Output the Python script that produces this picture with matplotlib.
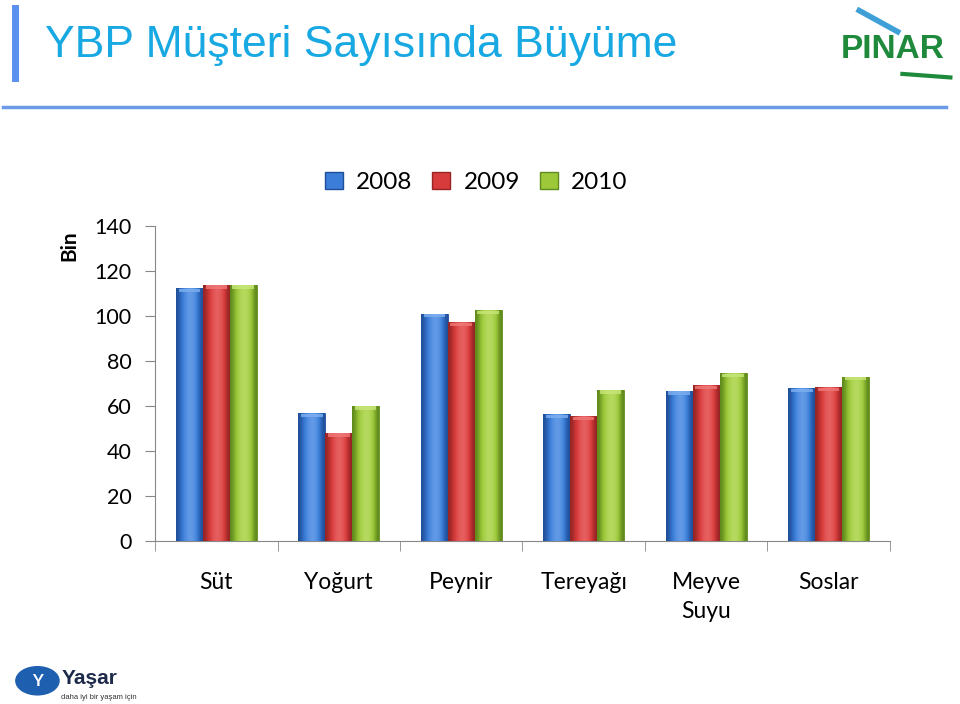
import numpy as np
import matplotlib.pyplot as plt
from matplotlib.patches import Rectangle, Ellipse
from matplotlib.lines import Line2D

categories = ["Süt", "Yoğurt", "Peynir", "Tereyağı", "Meyve\nSuyu", "Soslar"]
years = ["2008", "2009", "2010"]
v2008 = [112.3, 56.7, 101.0, 56.4, 66.7, 67.9]
v2009 = [113.8, 48.0, 97.3, 55.4, 69.3, 68.3]
v2010 = [113.8, 60.0, 102.5, 67.1, 74.5, 73.0]
yticks = [0, 20, 40, 60, 80, 100, 120, 140]

colors = ["#3b7dd8", "#d83b3b", "#9cc83a"]
dark = ["#1f4f9a", "#962424", "#5f8a1c"]
light = ["#7fb0f0", "#f07a7a", "#c8e67a"]

plt.rcParams['font.family'] = ['Lato', 'DejaVu Sans']

fig = plt.figure(figsize=(9.6, 7.04), dpi=100)
ax = fig.add_axes([0.1615, 0.2315, 0.927 - 0.1615, 0.679 - 0.2315])

x = np.arange(len(categories))
w = 0.22
series = [v2008, v2009, v2010]
for i, vals in enumerate(series):
    bars = ax.bar(x + (i - 1) * w, vals, w, color=colors[i], edgecolor=dark[i], linewidth=0.6, zorder=2)
    # horizontal shading across each bar
    grad = np.array([[0.0, 0.35, 0.6, 0.75, 0.8, 0.7, 0.45, 0.0]])
    cmap = plt.matplotlib.colors.LinearSegmentedColormap.from_list("g%d" % i, [dark[i], colors[i], light[i]])
    for b in bars:
        bx, bw, bh = b.get_x(), b.get_width(), b.get_height()
        im = ax.imshow(grad, cmap=cmap, vmin=0, vmax=1, aspect='auto',
                       extent=[bx, bx + bw, 0, bh], zorder=3, interpolation='bicubic')
        im.set_clip_path(b)
        # lighter top bevel
        ax.add_patch(Rectangle((bx + bw * 0.1, bh - 1.6), bw * 0.8, 1.4, color=light[i], alpha=0.8, lw=0, zorder=4))

ax.set_xlim(-0.5, len(categories) - 0.5)
ax.set_ylim(0, 140)
ax.set_yticks(yticks)
ax.set_yticklabels([str(t) for t in yticks], fontsize=15.5)
ax.set_xticks(x)
ax.set_xticklabels(categories, fontsize=16.5, linespacing=1.5)
ax.set_xticks(np.arange(len(categories) + 1) - 0.5, minor=True)
ax.tick_params(axis='x', which='major', length=0, pad=22)
ax.tick_params(axis='x', which='minor', length=7, color="#888888", direction='out')
ax.tick_params(axis='y', length=7, color="#888888", pad=10, direction='out')
for s in ["top", "right"]:
    ax.spines[s].set_visible(False)
for s in ["left", "bottom"]:
    ax.spines[s].set_color("#888888")

handles = [Rectangle((0, 0), 1, 1, facecolor=colors[i], edgecolor=dark[i]) for i in range(3)]
fig.legend(handles, years, loc='center', bbox_to_anchor=(0.496, 0.741), ncol=3, frameon=False,
           fontsize=17.5, handlelength=0.75, handleheight=0.75, handletextpad=0.55, columnspacing=0.8)

fig.text(0.072, 0.651, "Bin", rotation=90, fontsize=15, fontweight='bold', ha='center', va='center')

# header
fig.text(0.047, 0.935, "YBP Müşteri Sayısında Büyüme", fontsize=32, color="#18a8e2",
         family=['Liberation Sans', 'DejaVu Sans'], va='center', ha='left')
fig.add_artist(Line2D([0.0155, 0.0155], [0.889, 0.989], color="#5b8ff0", lw=5, transform=fig.transFigure))
fig.add_artist(Line2D([0.003, 0.985], [0.848, 0.848], color="#6a9ae8", lw=2.5, transform=fig.transFigure))

# Pinar logo
fig.text(0.93, 0.93, "PINAR", fontsize=24, fontweight='bold', color="#1f8a3c", ha='center', va='center',
         family=['Liberation Sans', 'DejaVu Sans'])
fig.add_artist(Line2D([0.895, 0.935], [0.985, 0.955], color="#3fa0d8", lw=4, transform=fig.transFigure))
fig.add_artist(Line2D([0.94, 0.99], [0.895, 0.89], color="#1f8a3c", lw=3, transform=fig.transFigure))

# Yasar logo
fig.add_artist(Ellipse((0.039, 0.033), 0.045, 0.04, transform=fig.transFigure, color="#1f5fb0"))
fig.text(0.039, 0.033, "Y", fontsize=12, fontweight='bold', color='white', ha='center', va='center')
fig.text(0.064, 0.036, "Yaşar", fontsize=15, fontweight='bold', color="#1e2a4a", ha='left', va='center',
         family=['Liberation Sans', 'DejaVu Sans'])
fig.text(0.064, 0.009, "daha iyi bir yaşam için", fontsize=5.5, color="#333333", ha='left', va='center',
         family=['Liberation Sans', 'DejaVu Sans'])

fig.savefig("out.png", dpi=100)
